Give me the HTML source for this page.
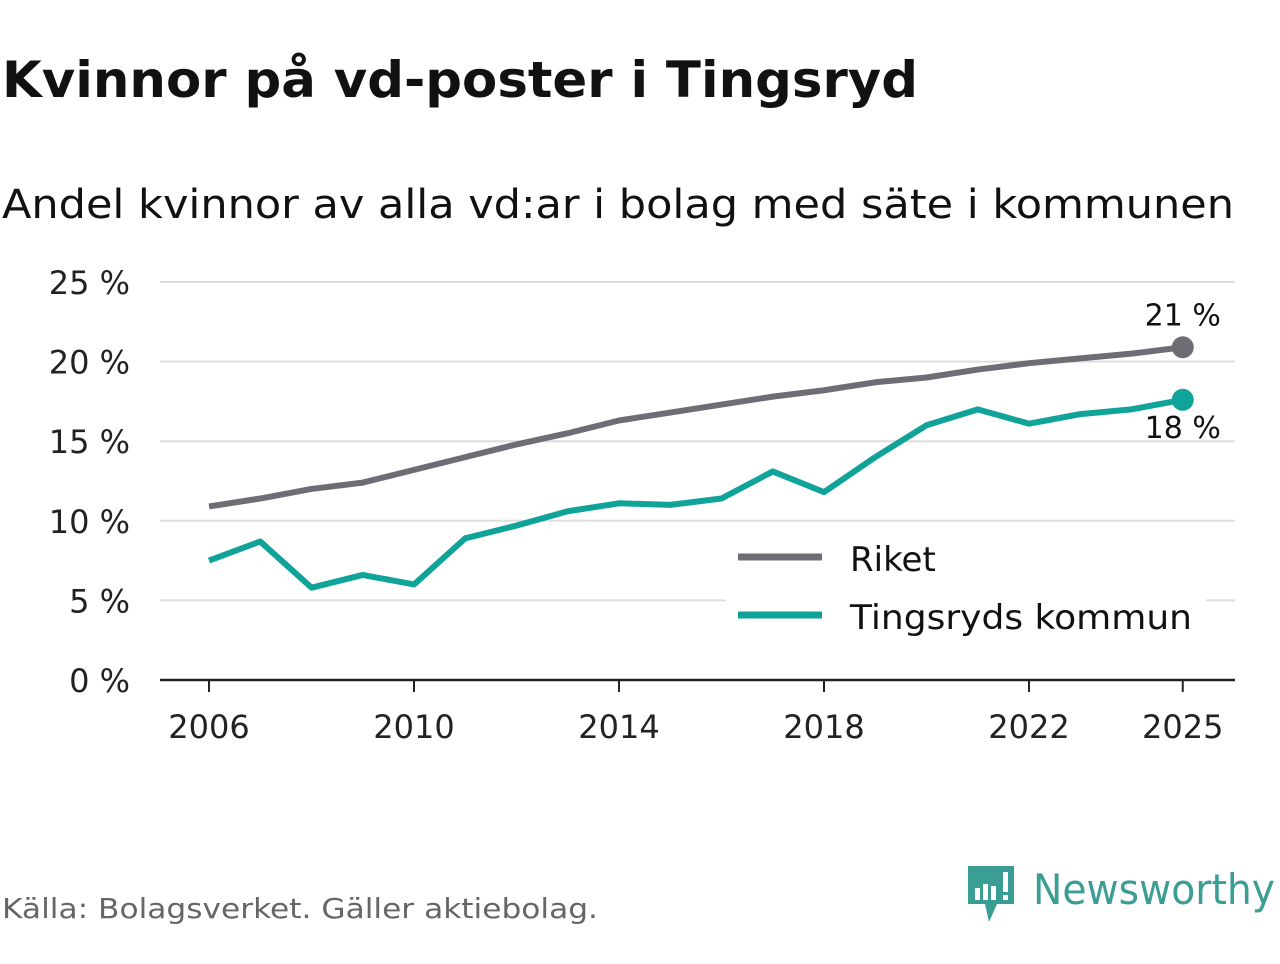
<!DOCTYPE html>
<html><head><meta charset="utf-8"><style>
body{margin:0;width:1280px;height:960px;background:#fff;font-family:"DejaVu Sans","Liberation Sans",sans-serif;overflow:hidden}
svg text{font-family:"DejaVu Sans","Liberation Sans",sans-serif}
</style></head><body>
<svg width="1280" height="960">
<text x="2" y="97" font-size="50" font-weight="bold" fill="#111" textLength="916" lengthAdjust="spacingAndGlyphs">Kvinnor på vd-poster i Tingsryd</text>
<text x="2" y="218" font-size="40" fill="#111" textLength="1232" lengthAdjust="spacingAndGlyphs">Andel kvinnor av alla vd:ar i bolag med säte i kommunen</text>
<g id="grid"></g><g id="lines"></g>
<rect x="726" y="530" width="480" height="110" fill="#fff"/>
<line x1="738" y1="557" x2="822" y2="557" stroke="#6e6d75" stroke-width="7"/>
<text x="850" y="571" font-size="34" fill="#111">Riket</text>
<line x1="738" y1="615" x2="822" y2="615" stroke="#0fa39a" stroke-width="7"/>
<text x="850" y="629" font-size="34" fill="#111" textLength="342" lengthAdjust="spacingAndGlyphs">Tingsryds kommun</text>
<text x="2" y="918" font-size="28" fill="#666" textLength="596" lengthAdjust="spacingAndGlyphs">Källa: Bolagsverket. Gäller aktiebolag.</text>
<g>
<path d="M968 866 h46 v38 h-17 l-8 18 l-4 -18 h-17 z" fill="#3a9e95"/>
<rect x="975" y="888" width="5" height="12" fill="#fff"/><rect x="983" y="884" width="5" height="16" fill="#fff"/><rect x="991" y="886" width="5" height="14" fill="#fff"/><rect x="1003" y="872" width="5" height="20" fill="#fff"/><rect x="1003" y="895" width="5" height="5" fill="#fff"/>
<text x="1033" y="904" font-size="42" fill="#3a9e95" textLength="242" lengthAdjust="spacingAndGlyphs">Newsworthy</text>
</g>
</svg>
<script>
const years=[2006,2007,2008,2009,2010,2011,2012,2013,2014,2015,2016,2017,2018,2019,2020,2021,2022,2023,2024,2025];
const riket=[10.9,11.4,12.0,12.4,13.2,14.0,14.8,15.5,16.3,16.8,17.3,17.8,18.2,18.7,19.0,19.5,19.9,20.2,20.5,20.9];
const tingsryd=[7.5,8.7,5.8,6.6,6.0,8.9,9.7,10.6,11.1,11.0,11.4,13.1,11.8,14.0,16.0,17.0,16.1,16.7,17.0,17.6];
const yTicks=[0,5,10,15,20,25];
const xTicks=[2006,2010,2014,2018,2022,2025];
const NS="http://www.w3.org/2000/svg";
const X=y=>209+(y-2006)*51.25, Y=v=>680-v*15.92;
function mk(t,a,p){const e=document.createElementNS(NS,t);for(const k in a)e.setAttribute(k,a[k]);p.appendChild(e);return e;}
const g=document.getElementById('grid'),L=document.getElementById('lines');
yTicks.forEach(v=>{
 if(v>0){const l=mk('line',{x1:160,x2:1235,y1:Y(v),y2:Y(v),stroke:'#ddd','stroke-width':2},g);
 
 }
 const t=mk('text',{x:130,y:Y(v)+12,'font-size':32,fill:'#222','text-anchor':'end'},g);t.textContent=v+' %';
 
 
});
const ax=mk('line',{x1:160,x2:1235,y1:680,y2:680,stroke:'#222','stroke-width':2.5},g);


xTicks.forEach(yr=>{
 mk('line',{x1:X(yr),x2:X(yr),y1:680,y2:692,stroke:'#222','stroke-width':2},g);
 const t=mk('text',{x:X(yr),y:738,'font-size':32,fill:'#222','text-anchor':'middle'},g);t.textContent=yr;
 
 
});
function series(vals,col,name){
 const p=mk('polyline',{points:vals.map((v,i)=>X(years[i])+','+Y(v)).join(' '),fill:'none',stroke:col,'stroke-width':6,'stroke-linejoin':'round'},L);
 
 
 const n=vals.length-1;
 const c=mk('circle',{cx:X(years[n]),cy:Y(vals[n]),r:11,fill:col},L);
 
 
}
series(riket,'#6e6d75','riket');
series(tingsryd,'#0fa39a','tingsryd');
const n=years.length-1;
const a=mk('text',{x:X(years[n]),y:Y(riket[n])-22,'font-size':30,fill:'#111','text-anchor':'middle'},L);a.textContent=Math.round(riket[n])+' %';


const b=mk('text',{x:X(years[n]),y:Y(tingsryd[n])+38,'font-size':30,fill:'#111','text-anchor':'middle'},L);b.textContent=Math.round(tingsryd[n])+' %';


</script>
</body></html>
